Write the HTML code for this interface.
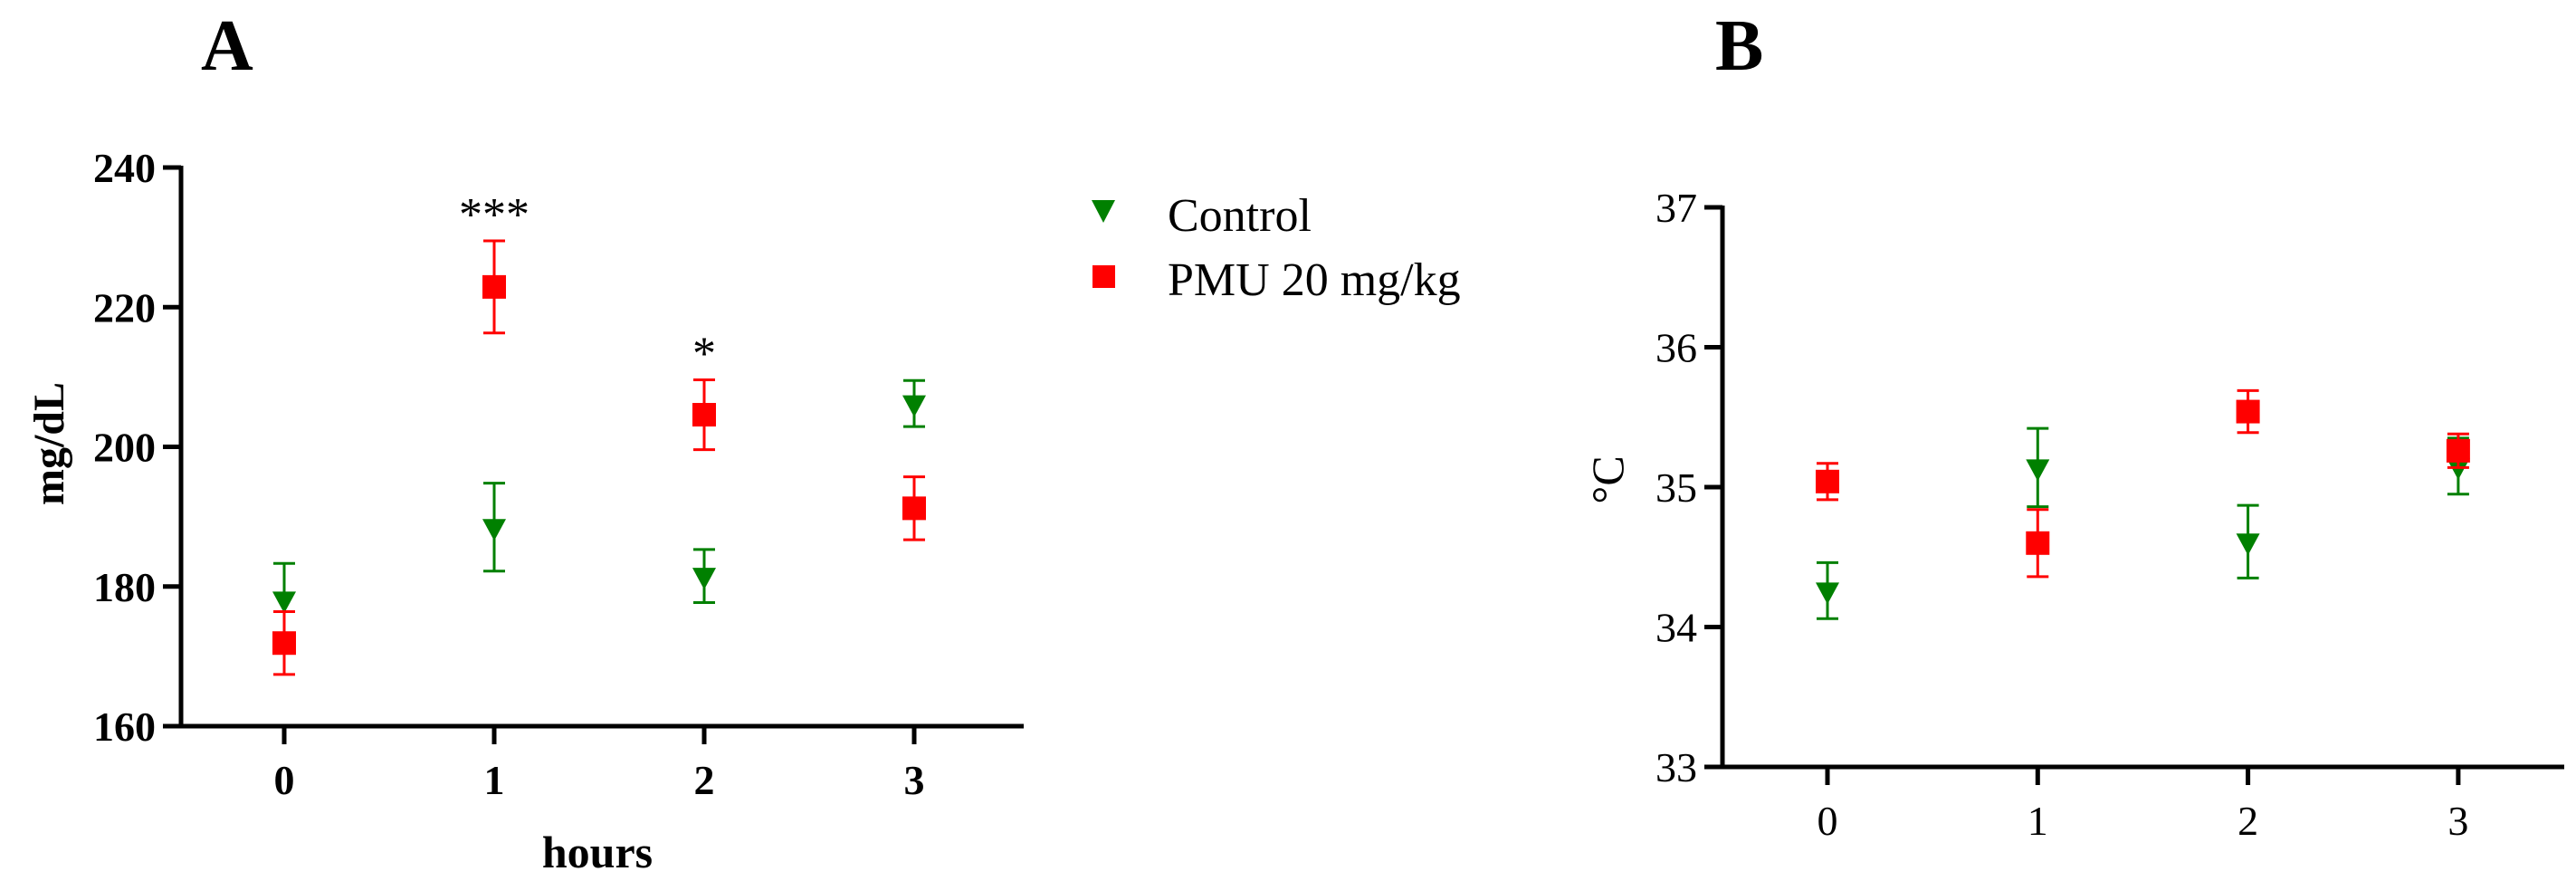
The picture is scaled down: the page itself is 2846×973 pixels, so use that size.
<!DOCTYPE html>
<html><head><meta charset="utf-8"><style>
html,body{margin:0;padding:0;background:#fff;}
svg{display:block;}
text{font-family:"Liberation Serif",serif;}
</style></head><body>
<svg id="fig" width="2846" height="973" viewBox="0 0 2846 973" xmlns="http://www.w3.org/2000/svg">
<g id="gA"></g>
<g id="gB"></g>
<g id="legend">
  <polygon points="1206,221 1232,221 1219,246" fill="#008000"/>
  <text x="1290" y="255" font-size="52">Control</text>
  <rect x="1207" y="293" width="25" height="25" fill="#ff0000"/>
  <text x="1290" y="326" font-size="52">PMU 20 mg/kg</text>
</g>
</svg>
<script>
const hours = [0, 1, 2, 3];
const aControl = [178.1, 188.5, 181.5, 206.2];
const aControlErr = [5.2, 6.3, 3.8, 3.3];
const aPmu = [171.9, 222.9, 204.6, 191.2];
const aPmuErr = [4.5, 6.6, 5.0, 4.5];
const aYTicks = [160, 180, 200, 220, 240];
const bControl = [34.26, 35.14, 34.61, 35.15];
const bControlErr = [0.2, 0.28, 0.26, 0.2];
const bPmu = [35.04, 34.60, 35.54, 35.26];
const bPmuErr = [0.13, 0.24, 0.15, 0.12];
const bYTicks = [33, 34, 35, 36, 37];
const aSig = ["", "***", "*", ""];

const NS = "http://www.w3.org/2000/svg";
function mk(parent, tag, attrs, txt) {
  const e = document.createElementNS(NS, tag);
  for (const k in attrs) e.setAttribute(k, attrs[k]);
  if (txt !== undefined) e.textContent = txt;
  parent.appendChild(e);
  return e;
}

function panel(g, cfg) {
  const xs = h => cfg.x0 + h * cfg.dx;
  const ys = v => cfg.yBottom - (v - cfg.ymin) / (cfg.ymax - cfg.ymin) * (cfg.yBottom - cfg.yTop);
  const w = cfg.bold ? "bold" : "normal";
  // axes
  let e = mk(g, "line", {x1: cfg.axX, y1: cfg.yTop - 2, x2: cfg.axX, y2: cfg.yBottom + 2.5, stroke: "#000", "stroke-width": 5});
  
  
  e = mk(g, "line", {x1: cfg.axX - 20, y1: cfg.yBottom, x2: cfg.axEnd, y2: cfg.yBottom, stroke: "#000", "stroke-width": 5});
  
  
  cfg.yTicks.forEach(t => {
    const y = ys(t);
    let l = mk(g, "line", {x1: cfg.axX - 20, y1: y, x2: cfg.axX, y2: y, stroke: "#000", "stroke-width": 5});
    
    
    let tx = mk(g, "text", {x: cfg.axX - 28, y: y + 16, "font-size": 46, "font-weight": w, "text-anchor": "end"}, String(t));
    
    
  });
  hours.forEach(h => {
    const x = xs(h);
    let l = mk(g, "line", {x1: x, y1: cfg.yBottom, x2: x, y2: cfg.yBottom + 20, stroke: "#000", "stroke-width": 5});
    
    
    let tx = mk(g, "text", {x: x, y: cfg.yBottom + 75, "font-size": 46, "font-weight": w, "text-anchor": "middle"}, String(h));
    
    
  });
  function errbar(x, v, err, color) {
    const eg = mk(g, "g", {stroke: color, "stroke-width": 3});
    
    
    mk(eg, "line", {x1: x, y1: ys(v + err), x2: x, y2: ys(v - err)});
    mk(eg, "line", {x1: x - 12, y1: ys(v + err), x2: x + 12, y2: ys(v + err)});
    mk(eg, "line", {x1: x - 12, y1: ys(v - err), x2: x + 12, y2: ys(v - err)});
  }
  hours.forEach((h, i) => {
    const x = xs(h);
    errbar(x, cfg.ctrl[i], cfg.ctrlErr[i], "#008000");
    const yc = ys(cfg.ctrl[i]);
    let p = mk(g, "polygon", {points: `${x-13},${yc-9} ${x+13},${yc-9} ${x},${yc+15}`, fill: "#008000"});
    
    
  });
  hours.forEach((h, i) => {
    const x = xs(h);
    errbar(x, cfg.pmu[i], cfg.pmuErr[i], "#ff0000");
    const yp = ys(cfg.pmu[i]);
    let r = mk(g, "rect", {x: x - 13, y: yp - 13, width: 26, height: 26, fill: "#ff0000"});
    
    
  });
  return {xs, ys};
}

const gA = document.getElementById("gA");
const A = panel(gA, {x0: 314, dx: 232, axX: 200, axEnd: 1131, yTop: 185, yBottom: 802, ymin: 160, ymax: 240,
  yTicks: aYTicks, ctrl: aControl, ctrlErr: aControlErr, pmu: aPmu, pmuErr: aPmuErr, bold: true});
hours.forEach((h, i) => {
  if (!aSig[i]) return;
  const top = Math.max(aPmu[i] + aPmuErr[i], aControl[i] + aControlErr[i]);
  let s = mk(gA, "text", {x: A.xs(h), y: A.ys(top) - 12, "font-size": 52, "text-anchor": "middle"}, aSig[i]);
  
  
});
let t = mk(gA, "text", {x: 222, y: 77, "font-size": 80, "font-weight": "bold"}, "A");


t = mk(gA, "text", {x: 0, y: 0, "font-size": 48, "font-weight": "bold", "text-anchor": "middle", transform: "translate(70,490) rotate(-90)"}, "mg/dL");


t = mk(gA, "text", {x: 660, y: 958, "font-size": 50, "font-weight": "bold", "text-anchor": "middle"}, "hours");



const gB = document.getElementById("gB");
panel(gB, {x0: 2019, dx: 232.3, axX: 1903, axEnd: 2833, yTop: 229, yBottom: 847, ymin: 33, ymax: 37,
  yTicks: bYTicks, ctrl: bControl, ctrlErr: bControlErr, pmu: bPmu, pmuErr: bPmuErr, bold: false});
t = mk(gB, "text", {x: 1895, y: 77, "font-size": 80, "font-weight": "bold"}, "B");


t = mk(gB, "text", {x: 0, y: 0, "font-size": 50, "text-anchor": "middle", transform: "translate(1793,530) rotate(-90)"}, "°C");


</script>
</body></html>
